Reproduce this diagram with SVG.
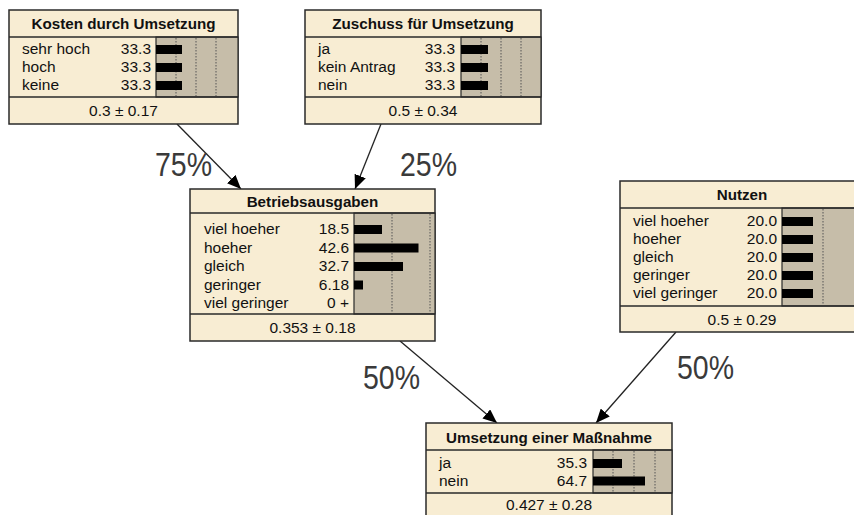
<svg xmlns="http://www.w3.org/2000/svg" width="854" height="515" viewBox="0 0 854 515">
  <style>
    .box { fill: #f8edd3; stroke: #2a2a2a; stroke-width: 1.5; }
    .sep { stroke: #2a2a2a; stroke-width: 1.5; }
    .bars { fill: #c6bda9; stroke: #2a2a2a; stroke-width: 1.2; }
    .grid { stroke: #555; stroke-width: 1; stroke-dasharray: 1.5 1.5; }
    .bar { fill: #000; }
    .title { font-family: "Liberation Sans", Arial, sans-serif; font-size: 15.2px; font-weight: bold; fill: #111; text-anchor: middle; }
    .lbl { font-family: "Liberation Sans", Arial, sans-serif; font-size: 15.5px; fill: #111; }
    .val { font-family: "Liberation Sans", Arial, sans-serif; font-size: 15.5px; fill: #111; text-anchor: end; }
    .foot { font-family: "Liberation Sans", Arial, sans-serif; font-size: 15.5px; fill: #111; text-anchor: middle; }
    .pct { font-family: "Liberation Sans", Arial, sans-serif; font-size: 34px; fill: #3a3a3a; }
    .edge { stroke: #222; stroke-width: 1.3; fill: none; marker-end: url(#head); }
  </style>
  <defs>
    <marker id="head" markerUnits="userSpaceOnUse" markerWidth="14" markerHeight="12" viewBox="0 0 14 12" refX="14" refY="6" orient="auto">
      <path d="M0,0 L14,6 L0,12 Z" fill="#000"/>
    </marker>
  </defs>

  <rect width="854" height="515" fill="#fff"/>

  <!-- connectors -->
  <g id="connectors">
    <line class="edge" x1="177" y1="124" x2="241" y2="189"/>
    <line class="edge" x1="381" y1="124" x2="355" y2="189"/>
    <line class="edge" x1="400" y1="341" x2="497" y2="423"/>
    <line class="edge" x1="676" y1="332" x2="596" y2="423"/>
    <text class="pct" x="155" y="176" textLength="57" lengthAdjust="spacingAndGlyphs">75%</text>
    <text class="pct" x="400" y="176" textLength="57" lengthAdjust="spacingAndGlyphs">25%</text>
    <text class="pct" x="363" y="389" textLength="57" lengthAdjust="spacingAndGlyphs">50%</text>
    <text class="pct" x="677" y="379" textLength="57" lengthAdjust="spacingAndGlyphs">50%</text>
  </g>

  <!-- Kosten durch Umsetzung -->
  <g id="kosten">
    <rect class="box" x="9" y="10" width="229" height="114"/>
    <rect class="bars" x="156" y="37" width="82" height="60"/>
    <line class="grid" x1="176" y1="38" x2="176" y2="96"/>
    <line class="grid" x1="196" y1="38" x2="196" y2="96"/>
    <line class="grid" x1="216" y1="38" x2="216" y2="96"/>
    <line class="sep" x1="9" y1="37" x2="238" y2="37"/>
    <line class="sep" x1="9" y1="97" x2="238" y2="97"/>
    <text class="title" x="123.5" y="29">Kosten durch Umsetzung</text>
    <text class="lbl" x="22" y="54">sehr hoch</text>
    <text class="lbl" x="22" y="72">hoch</text>
    <text class="lbl" x="22" y="90">keine</text>
    <text class="val" x="151" y="54">33.3</text>
    <text class="val" x="151" y="72">33.3</text>
    <text class="val" x="151" y="90">33.3</text>
    <rect class="bar" x="156" y="45" width="26" height="9"/>
    <rect class="bar" x="156" y="63" width="26" height="9"/>
    <rect class="bar" x="156" y="81" width="26" height="9"/>
    <text class="foot" x="123.5" y="116">0.3 ± 0.17</text>
  </g>

  <!-- Zuschuss für Umsetzung -->
  <g id="zuschuss">
    <rect class="box" x="305" y="10" width="236" height="114"/>
    <rect class="bars" x="461" y="37" width="80" height="60"/>
    <line class="grid" x1="481" y1="38" x2="481" y2="96"/>
    <line class="grid" x1="501" y1="38" x2="501" y2="96"/>
    <line class="grid" x1="521" y1="38" x2="521" y2="96"/>
    <line class="sep" x1="305" y1="37" x2="541" y2="37"/>
    <line class="sep" x1="305" y1="97" x2="541" y2="97"/>
    <text class="title" x="423" y="29">Zuschuss für Umsetzung</text>
    <text class="lbl" x="318" y="54">ja</text>
    <text class="lbl" x="318" y="72">kein Antrag</text>
    <text class="lbl" x="318" y="90">nein</text>
    <text class="val" x="455" y="54">33.3</text>
    <text class="val" x="455" y="72">33.3</text>
    <text class="val" x="455" y="90">33.3</text>
    <rect class="bar" x="461" y="45" width="27" height="9"/>
    <rect class="bar" x="461" y="63" width="27" height="9"/>
    <rect class="bar" x="461" y="81" width="27" height="9"/>
    <text class="foot" x="423" y="116">0.5 ± 0.34</text>
  </g>

  <!-- Betriebsausgaben -->
  <g id="betriebsausgaben">
    <rect class="box" x="190" y="189" width="245" height="152"/>
    <rect class="bars" x="354" y="213" width="81" height="101"/>
    <line class="grid" x1="392" y1="214" x2="392" y2="313"/>
    <line class="grid" x1="430" y1="214" x2="430" y2="313"/>
    <line class="sep" x1="190" y1="213" x2="435" y2="213"/>
    <line class="sep" x1="190" y1="314" x2="435" y2="314"/>
    <text class="title" x="312.5" y="207">Betriebsausgaben</text>
    <text class="lbl" x="204" y="234">viel hoeher</text>
    <text class="lbl" x="204" y="252.5">hoeher</text>
    <text class="lbl" x="204" y="271">gleich</text>
    <text class="lbl" x="204" y="289.5">geringer</text>
    <text class="lbl" x="204" y="308">viel geringer</text>
    <text class="val" x="349" y="234">18.5</text>
    <text class="val" x="349" y="252.5">42.6</text>
    <text class="val" x="349" y="271">32.7</text>
    <text class="val" x="349" y="289.5">6.18</text>
    <text class="val" x="349" y="308">0 +</text>
    <rect class="bar" x="354" y="225" width="28" height="9"/>
    <rect class="bar" x="354" y="243.5" width="64.5" height="9"/>
    <rect class="bar" x="354" y="262" width="49" height="9"/>
    <rect class="bar" x="354" y="280.5" width="9" height="9"/>
    <text class="foot" x="312.5" y="333">0.353 ± 0.18</text>
  </g>

  <!-- Nutzen -->
  <g id="nutzen">
    <rect class="box" x="620" y="181" width="244" height="151"/>
    <rect class="bars" x="782" y="208" width="82" height="98"/>
    <line class="grid" x1="823" y1="209" x2="823" y2="305"/>
    <line class="sep" x1="620" y1="208" x2="864" y2="208"/>
    <line class="sep" x1="620" y1="306" x2="864" y2="306"/>
    <text class="title" x="742" y="200">Nutzen</text>
    <text class="lbl" x="633" y="226">viel hoeher</text>
    <text class="lbl" x="633" y="244">hoeher</text>
    <text class="lbl" x="633" y="262">gleich</text>
    <text class="lbl" x="633" y="280">geringer</text>
    <text class="lbl" x="633" y="298">viel geringer</text>
    <text class="val" x="777" y="226">20.0</text>
    <text class="val" x="777" y="244">20.0</text>
    <text class="val" x="777" y="262">20.0</text>
    <text class="val" x="777" y="280">20.0</text>
    <text class="val" x="777" y="298">20.0</text>
    <rect class="bar" x="782" y="217" width="31" height="9"/>
    <rect class="bar" x="782" y="235" width="31" height="9"/>
    <rect class="bar" x="782" y="253" width="31" height="9"/>
    <rect class="bar" x="782" y="271" width="31" height="9"/>
    <rect class="bar" x="782" y="289" width="31" height="9"/>
    <text class="foot" x="742" y="324.5">0.5 ± 0.29</text>
  </g>

  <!-- Umsetzung einer Maßnahme -->
  <g id="umsetzung">
    <rect class="box" x="426" y="423" width="246" height="98"/>
    <rect class="bars" x="593" y="450" width="79" height="43"/>
    <line class="grid" x1="613" y1="451" x2="613" y2="492"/>
    <line class="grid" x1="634" y1="451" x2="634" y2="492"/>
    <line class="grid" x1="655" y1="451" x2="655" y2="492"/>
    <line class="sep" x1="426" y1="450" x2="672" y2="450"/>
    <line class="sep" x1="426" y1="493" x2="672" y2="493"/>
    <text class="title" x="549" y="443">Umsetzung einer Maßnahme</text>
    <text class="lbl" x="439" y="468">ja</text>
    <text class="lbl" x="439" y="485.5">nein</text>
    <text class="val" x="587" y="468">35.3</text>
    <text class="val" x="587" y="485.5">64.7</text>
    <rect class="bar" x="593" y="459" width="29" height="9"/>
    <rect class="bar" x="593" y="476.5" width="52" height="9"/>
    <text class="foot" x="549" y="510">0.427 ± 0.28</text>
  </g>
</svg>
